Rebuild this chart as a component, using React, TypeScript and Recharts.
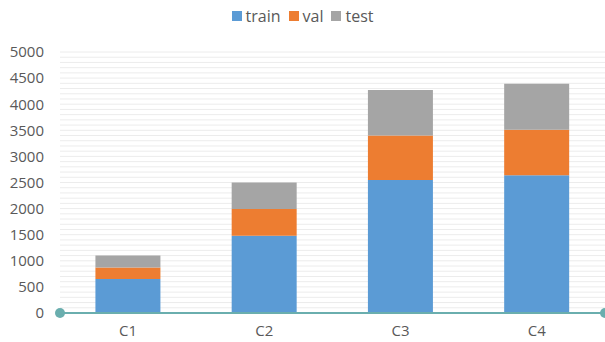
import React from "react";
import { Bar, BarChart, CartesianGrid, Legend, ReferenceLine, XAxis, YAxis } from "recharts";

const categories = ["C1", "C2", "C3", "C4"];
const train = [650, 1480, 2550, 2640];
const val = [220, 510, 850, 870];
const test = [230, 510, 870, 880];

const seriesNames = ["train", "val", "test"];
const seriesColors = ["#5b9bd5", "#ed7d31", "#a5a5a5"];

// minor grid every 100, labels only every 500
const yTicks = Array.from({ length: 51 }, (_, i) => i * 100);

const data = categories.map((name, i) => ({
  name,
  train: train[i],
  val: val[i],
  test: test[i],
}));

const font = "'Open Sans', 'Noto Sans', sans-serif";
const textColor = "#595959";
const axisColor = "#6aaeae";

const BaseLine = (p: any) => (
  <g>
    <line x1={p.x1} y1={p.y1} x2={p.x2} y2={p.y2} stroke={axisColor} strokeWidth={2} />
    <circle cx={p.x1} cy={p.y1} r={5} fill={axisColor} />
    <circle cx={p.x2} cy={p.y2} r={5} fill={axisColor} />
  </g>
);

const LegendRow = () => (
  <div style={{ display: "flex", justifyContent: "center", alignItems: "center", gap: 8, fontSize: 16, color: textColor, fontFamily: font }}>
    {seriesNames.map((n, i) => (
      <span key={n} style={{ display: "inline-flex", alignItems: "center", gap: 4 }}>
        <span style={{ width: 10, height: 10, background: seriesColors[i], display: "inline-block" }} />
        {n}
      </span>
    ))}
  </div>
);

export default function App() {
  return (
    <div style={{ position: "absolute", left: 0, top: 0, width: 605, height: 342, background: "#fff", fontFamily: font }}>
      <BarChart
        width={605}
        height={342}
        data={data}
        margin={{ top: 28, right: 0, bottom: 0, left: 0 }}
        barCategoryGap="26%"
      >
        <CartesianGrid vertical={false} stroke="#ececec" strokeWidth={1} />
        <XAxis
          dataKey="name"
          axisLine={false}
          tickLine={false}
          height={29}
          tickMargin={6}
          tick={{ fill: textColor, fontSize: 15, fontFamily: font }}
        />
        <YAxis
          domain={[0, 5000]}
          ticks={yTicks}
          interval={0}
          width={60}
          axisLine={false}
          tickLine={false}
          tickMargin={10}
          tickFormatter={(v: number) => (v % 500 === 0 ? String(v) : "")}
          tick={{ fill: textColor, fontSize: 15, fontFamily: font }}
        />
        <Legend
          verticalAlign="top"
          align="center"
          content={LegendRow}
          wrapperStyle={{ top: 5, left: 0, width: 605, height: 24 }}
        />
        {seriesNames.map((n, i) => (
          <Bar key={n} dataKey={n} stackId="a" fill={seriesColors[i]} isAnimationActive={false} />
        ))}
        <ReferenceLine y={0} ifOverflow="visible" shape={BaseLine} />
      </BarChart>
    </div>
  );
}
